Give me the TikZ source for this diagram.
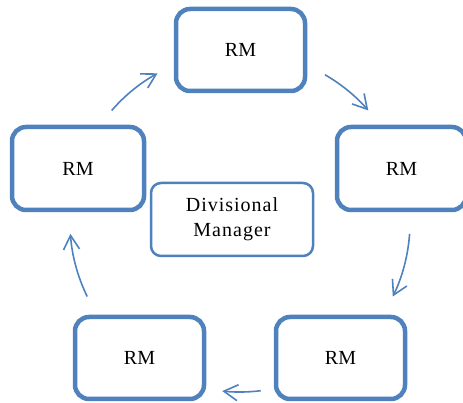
\documentclass[tikz,border=0pt]{standalone}
\usepackage{fontspec}
\setmainfont{Liberation Serif}
\usetikzlibrary{arrows.meta}
\definecolor{rmblue}{RGB}{79,129,189}
\begin{document}
\begin{tikzpicture}[x=1pt,y=1pt,
  rmbox/.style={draw=rmblue, line width=4.5pt, rounded corners=14pt, fill=white,
    minimum width=129pt, minimum height=82pt, inner sep=0pt,
    font=\fontsize{20}{25}\selectfont},
  dmbox/.style={draw=rmblue, line width=2.5pt, rounded corners=10pt, fill=white,
    minimum width=162pt, minimum height=73pt, inner sep=0pt, align=center,
    font=\fontsize{20}{25}\selectfont\addfontfeature{LetterSpace=5}},
  flow/.style={draw=rmblue, line width=1.6pt,
    -{Straight Barb[length=14pt,width=16pt,line width=1.6pt]}}]
\useasboundingbox (0,0) rectangle (463,403);

% managers
\node[rmbox] (top) at (240.5,353) {RM};
\node[rmbox, minimum width=132pt, minimum height=83pt] (left) at (78,234.5) {RM};
\node[rmbox, minimum height=83pt] (right) at (401.5,234.5) {RM};
\node[rmbox] (botleft) at (139.5,45) {RM};
\node[rmbox] (botright) at (340.5,45) {RM};
\node[dmbox] (dm) at (232,183.5) {Divisional\\Manager};

% circular flow around the centre
\coordinate (ctr) at (240,181);
\coordinate (f1) at ([shift={(139:170pt)}]ctr);
\coordinate (f2) at ([shift={(60:170pt)}]ctr);
\coordinate (f3) at ([shift={(-4:170pt)}]ctr);
\coordinate (f4) at ([shift={(-83:170pt)}]ctr);
\coordinate (f5) at ([shift={(206:170pt)}]ctr);
\draw[flow] (f1) arc[start angle=139, end angle=119, radius=170pt];
\draw[flow] (f2) arc[start angle=60, end angle=41, radius=170pt];
\draw[flow] (f3) arc[start angle=-4, end angle=-26, radius=170pt];
\draw[flow] (f4) arc[start angle=-83, end angle=-96, radius=170pt];
\draw[flow] (f5) arc[start angle=206, end angle=184, radius=170pt];
\end{tikzpicture}
\end{document}
